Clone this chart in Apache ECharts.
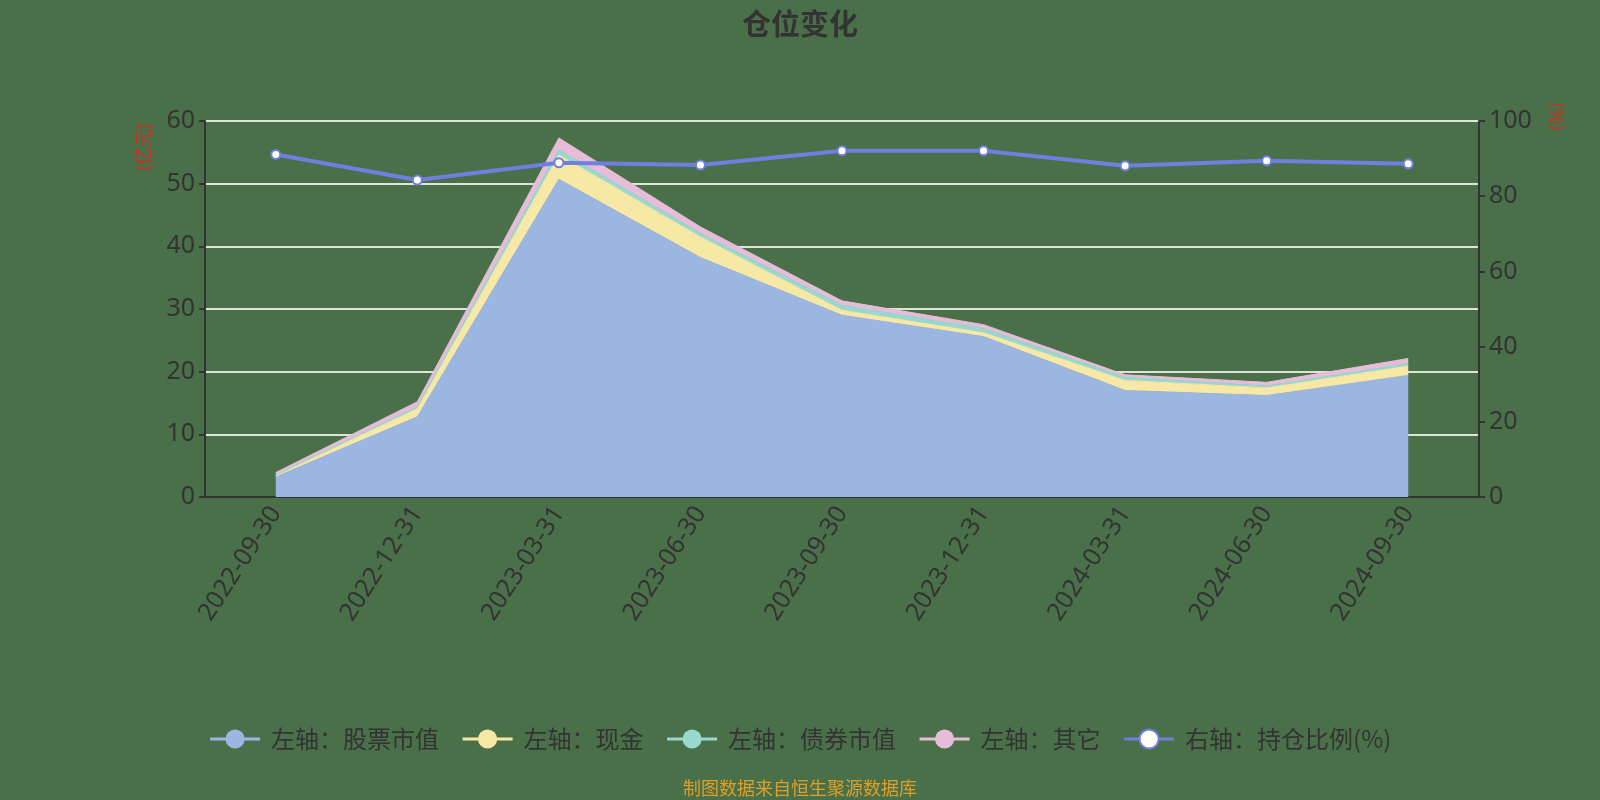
<!DOCTYPE html>
<html><head><meta charset="utf-8">
<script src="https://cdn.jsdelivr.net/npm/echarts@6/dist/echarts.min.js"></script>
<style>html,body{margin:0;padding:0;background:#4a7049;}#c{width:1600px;height:800px;}</style>
</head><body><div id="c"></div>
<script>
const categories = ['2022-09-30','2022-12-31','2023-03-31','2023-06-30','2023-09-30','2023-12-31','2024-03-31','2024-06-30','2024-09-30'];
const stockValue = [3.2, 12.8, 50.7, 38.2, 29.0, 25.6, 17.0, 16.2, 19.4];
const cashValue  = [0.2, 1.3, 3.9, 3.3, 0.8, 0.6, 1.6, 1.2, 1.5];
const bondValue  = [0.1, 0.3, 0.8, 0.6, 0.8, 0.7, 0.5, 0.3, 0.4];
const otherValue = [0.4, 0.8, 1.9, 1.0, 0.7, 0.6, 0.4, 0.6, 0.8];
const positionRatio = [91.1, 84.3, 88.9, 88.3, 92.1, 92.1, 88.1, 89.4, 88.6];
const leftTicks = {min: 0, max: 60, interval: 10};
const rightTicks = {min: 0, max: 100, interval: 20};

const chart = echarts.init(document.getElementById('c'));
const txt = '#333';
const cjk = 'Noto Sans CJK SC';
function area(name, data, color) {
  return {
    name, type: 'line', stack: 'total', data, yAxisIndex: 0,
    symbol: 'circle', symbolSize: 8, showSymbol: false, smooth: false,
    lineStyle: {width: 1, color}, itemStyle: {color},
    areaStyle: {color, opacity: 1}
  };
}
chart.setOption({
  backgroundColor: '#4a7049',
  animation: false,
  title: {text: '仓位变化', left: 'center', top: 4,
    textStyle: {fontSize: 29, fontWeight: 'bold', color: '#333', fontFamily: cjk}},
  grid: {left: 205, right: 121, top: 121, bottom: 303},
  legend: {
    top: 722, left: 'center', itemWidth: 50, itemHeight: 24, itemGap: 22,
    lineStyle: {width: 3},
    textStyle: {fontSize: 24, color: '#333', fontFamily: cjk, padding: [0, 0, 0, 6]},
    data: ['左轴：股票市值','左轴：现金','左轴：债券市值','左轴：其它','右轴：持仓比例(%)']
  },
  graphic: [
    {type: 'text', left: 'center', top: 779,
      style: {text: '制图数据来自恒生聚源数据库', fill: '#dca02a', fontSize: 18, fontFamily: cjk}},
    {type: 'text', x: 143, y: 123, rotation: Math.PI / 2,
      style: {text: '(亿元)', fill: '#d62a1f', fontSize: 18, fontFamily: cjk, align: 'right', verticalAlign: 'middle'}},
    {type: 'text', x: 1557, y: 102, rotation: -Math.PI / 2,
      style: {text: '(%)', fill: '#d62a1f', fontSize: 18, fontFamily: cjk, align: 'left', verticalAlign: 'middle'}}
  ],
  xAxis: {
    type: 'category', data: categories, boundaryGap: true,
    axisLine: {lineStyle: {color: '#333', width: 2}},
    axisTick: {lineStyle: {color: '#333', width: 2}, length: 6},
    axisLabel: {rotate: 57, fontSize: 25, color: txt, margin: 12, fontFamily: 'Noto Sans'}
  },
  yAxis: [{
    type: 'value', min: leftTicks.min, max: leftTicks.max, interval: leftTicks.interval,
    axisLine: {show: true, lineStyle: {color: '#333', width: 2}},
    axisTick: {show: true, lineStyle: {color: '#333', width: 2}, length: 6},
    axisLabel: {fontSize: 25, color: txt, margin: 10, fontFamily: 'Noto Sans'},
    splitLine: {show: true, lineStyle: {color: '#dde6d6', width: 2}}
  }, {
    type: 'value', min: rightTicks.min, max: rightTicks.max, interval: rightTicks.interval,
    axisLine: {show: true, lineStyle: {color: '#333', width: 2}},
    axisTick: {show: true, lineStyle: {color: '#333', width: 2}, length: 6},
    axisLabel: {fontSize: 25, color: txt, margin: 10, fontFamily: 'Noto Sans'},
    splitLine: {show: false}
  }],
  series: [
    area('左轴：股票市值', stockValue, '#9bb6e0'),
    area('左轴：现金', cashValue, '#f7e8a6'),
    area('左轴：债券市值', bondValue, '#98d8cf'),
    area('左轴：其它', otherValue, '#e6bcd9'),
    {
      name: '右轴：持仓比例(%)', type: 'line', yAxisIndex: 1, data: positionRatio,
      symbol: 'circle', symbolSize: 9, showSymbol: true,
      lineStyle: {color: '#6e7fe0', width: 4},
      itemStyle: {color: '#ffffff', borderColor: '#6e7fe0', borderWidth: 2},
      z: 5
    }
  ]
});
</script></body></html>
